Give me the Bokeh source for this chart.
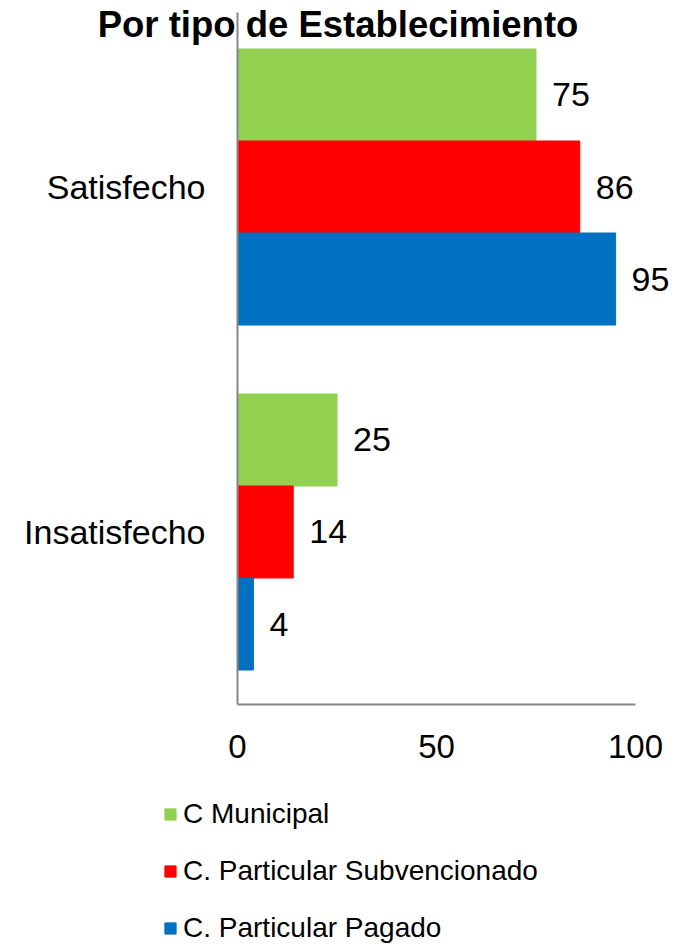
from bokeh.plotting import figure
from bokeh.models import (ColumnDataSource, LabelSet, Label, Legend,
                          LegendItem, Range1d, FixedTicker)
from bokeh.transform import dodge
from bokeh.core.properties import value
from bokeh.embed import file_html
from bokeh.resources import INLINE

# ---- data ----
categories = ["Satisfecho", "Insatisfecho"]
series_names = ["C Municipal", "C. Particular Subvencionado", "C. Particular Pagado"]
municipal = [75, 25]
subvencionado = [86, 14]
pagado = [95, 4]
x_ticks = [0, 50, 100]
title_text = "Por tipo de Establecimiento"

colors = ["#92D050", "#FF0000", "#0070C0"]
offsets = [0.2667, 0.0, -0.2667]
FONT = "Liberation Sans"

# category positions (top category first)
positions = [len(categories) - 0.5 - i for i in range(len(categories))]

W, H = 678, 944
p = figure(width=W, height=H, title=None,
           x_range=Range1d(-59.55, 110.8),
           y_range=Range1d(-0.6957, 2.0406),
           output_backend="svg", toolbar_location=None,
           min_border=0, min_border_left=0, min_border_right=0,
           min_border_top=0, min_border_bottom=0)

renderers = []
for name, vals, col, off in zip(series_names, [municipal, subvencionado, pagado], colors, offsets):
    src = ColumnDataSource(dict(pos=positions, value=vals, label=[str(v) for v in vals]))
    r = p.hbar(y=dodge("pos", off), left=0, right="value", height=0.2667,
               source=src, fill_color=col, line_color=col)
    renderers.append(r)
    p.add_layout(LabelSet(x="value", y=dodge("pos", off), text="label",
                          source=src, x_offset=16, text_baseline="middle",
                          text_font=value(FONT), text_font_size="34px", text_color="black"))

# axes (drawn at fixed data locations)
for ax in (p.xaxis[0], p.yaxis[0]):
    ax.axis_line_color = "#868686"
    ax.axis_line_width = 2
    ax.major_tick_line_color = None
    ax.minor_tick_line_color = None
    ax.major_tick_out = 0
    ax.major_tick_in = 0
    ax.major_label_text_font = FONT
    ax.major_label_text_color = "black"
    ax.fixed_location = 0

p.xaxis.ticker = FixedTicker(ticks=x_ticks)
p.xaxis.bounds = (min(x_ticks), max(x_ticks))
p.xaxis.major_label_text_font_size = "33px"
p.xaxis.major_label_standoff = 31

p.yaxis.ticker = FixedTicker(ticks=positions)
p.yaxis.major_label_overrides = {pos: cat for pos, cat in zip(positions, categories)}
p.yaxis.bounds = (0, len(categories) + 0.006)
p.yaxis.major_label_text_font_size = "34px"
p.yaxis.major_label_standoff = 32

p.xgrid.visible = False
p.ygrid.visible = False
p.outline_line_color = None

# title
p.add_layout(Label(x=25.25, y=1.972, text=title_text, text_align="center",
                   text_baseline="alphabetic", text_font=FONT, text_font_style="bold",
                   text_font_size="36.5px", text_color="black"))

legend = Legend(items=[LegendItem(label=n, renderers=[r]) for n, r in zip(series_names, renderers)],
                location=(163, 0), orientation="vertical",
                glyph_width=14, glyph_height=14, label_height=13, label_standoff=6,
                spacing=25, padding=0, margin=0, border_line_color=None,
                background_fill_alpha=0, label_text_font=FONT, label_text_font_size="28px",
                label_text_color="black")
p.add_layout(legend)

open("out.html", "w").write(file_html(p, INLINE))
